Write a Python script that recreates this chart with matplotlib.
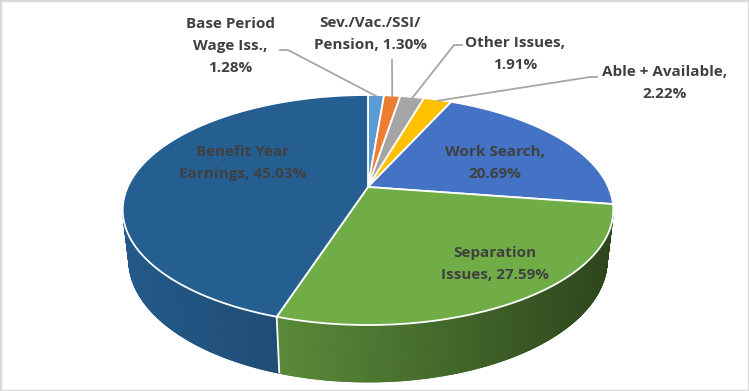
import numpy as np
import matplotlib.pyplot as plt
import matplotlib.colors as mcolors
from matplotlib.patches import Polygon, Rectangle
from matplotlib.collections import PolyCollection

# data, clockwise from 12 o'clock
names = ["Base Period\nWage Iss.", "Sev./Vac./SSI/\nPension", "Other Issues",
         "Able + Available", "Work Search", "Separation\nIssues",
         "Benefit Year\nEarnings"]
values = [1.28, 1.30, 1.91, 2.22, 20.69, 27.59, 45.03]
seps = [",\n", ", ", ",\n", ",\n", ",\n", ", ", ", "]
colors = ["#5B9BD5", "#ED7D31", "#A5A5A5", "#FFC000", "#4472C4", "#70AD47", "#255E91"]

# layout (pixels) + a little perspective camera for the 3d look
W, H = 749, 391
cx, cy = 368, 187
focal, dist, elev, thick = 1067, 4.44, np.radians(27.35), 0.236
label_pos = [(230, 46), (370, 34), (515, 54), (665, 83), (495, 163), (495, 264), (243, 163)]
# leader elbows for the small outside labels
leaders = {0: [(280, 50), (288, 50)],
           1: [(392, 60), (392, 62)],
           2: [(462, 45), (454, 45)],
           3: [(597, 77), (590, 77)]}

fig = plt.figure(figsize=(W / 100, H / 100), dpi=100)
ax = fig.add_axes([0, 0, 1, 1])
ax.set_xlim(0, W)
ax.set_ylim(H, 0)
ax.axis("off")

s, c = np.sin(elev), np.cos(elev)


def proj(t, h=0.0):
    yv = h * c + np.sin(t) * s
    zv = dist + np.sin(t) * c - h * s
    return cx + focal * np.cos(t) / zv, cy - focal * yv / zv


def shade(col, x):
    r = np.clip((x - 122) / 492, 0, 1)
    f = 0.95 - 0.55 * r ** 1.1
    return tuple(np.clip(np.array(mcolors.to_rgb(col)) * f, 0, 1))


total = sum(values)
bounds = [np.pi / 2]
for v in values:
    bounds.append(bounds[-1] - 2 * np.pi * v / total)

# side wall (only the part that faces the camera)
vis = -1.0 / (dist * c) + 0.01
polys, fcs = [], []
for i, v in enumerate(values):
    ts = np.linspace(bounds[i], bounds[i + 1], 500)
    for ta, tb in zip(ts[:-1], ts[1:]):
        if np.sin((ta + tb) / 2) >= vis:
            continue
        xa, ya = proj(ta)
        xb, yb = proj(tb)
        xc, yc = proj(tb, -thick)
        xd, yd = proj(ta, -thick)
        polys.append([(xa, ya), (xb, yb), (xc, yc), (xd, yd)])
        fcs.append(shade(colors[i], (xa + xb) / 2))
ax.add_collection(PolyCollection(polys, facecolors=fcs, edgecolors=fcs, linewidths=0.6))

# white seams on the side wall
for b in bounds[1:-1]:
    if np.sin(b) < vis:
        x0, y0 = proj(b)
        x1, y1 = proj(b, -thick)
        ax.plot([x0, x1], [y0, y1], color="white", lw=1.3, solid_capstyle="butt")

# top face
for i, v in enumerate(values):
    ts = np.linspace(bounds[i], bounds[i + 1], 300)
    xs, ys = proj(ts)
    verts = [(cx, cy)] + list(zip(xs, ys))
    ax.add_patch(Polygon(verts, closed=True, facecolor=colors[i], edgecolor="white",
                         lw=1.3, joinstyle="round"))

# labels
for i, v in enumerate(values):
    txt = f"{names[i]}{seps[i]}{v:.2f}%"
    ax.text(label_pos[i][0], label_pos[i][1], txt, ha="center", va="center",
            multialignment="center", fontsize=11, fontweight="bold",
            color="#404040", family="Open Sans", linespacing=1.72)

for i, pts in leaders.items():
    mid = (bounds[i] + bounds[i + 1]) / 2
    ex, ey = proj(mid)
    xs = [p[0] for p in pts] + [ex]
    ys = [p[1] for p in pts] + [ey + 1]
    ax.plot(xs, ys, color="#A6A6A6", lw=1.3)

fig.add_artist(Rectangle((0, 0), 1, 1, transform=fig.transFigure, fill=False,
                         edgecolor="#D9D9D9", lw=2.5))

fig.savefig("out.png", dpi=100)
